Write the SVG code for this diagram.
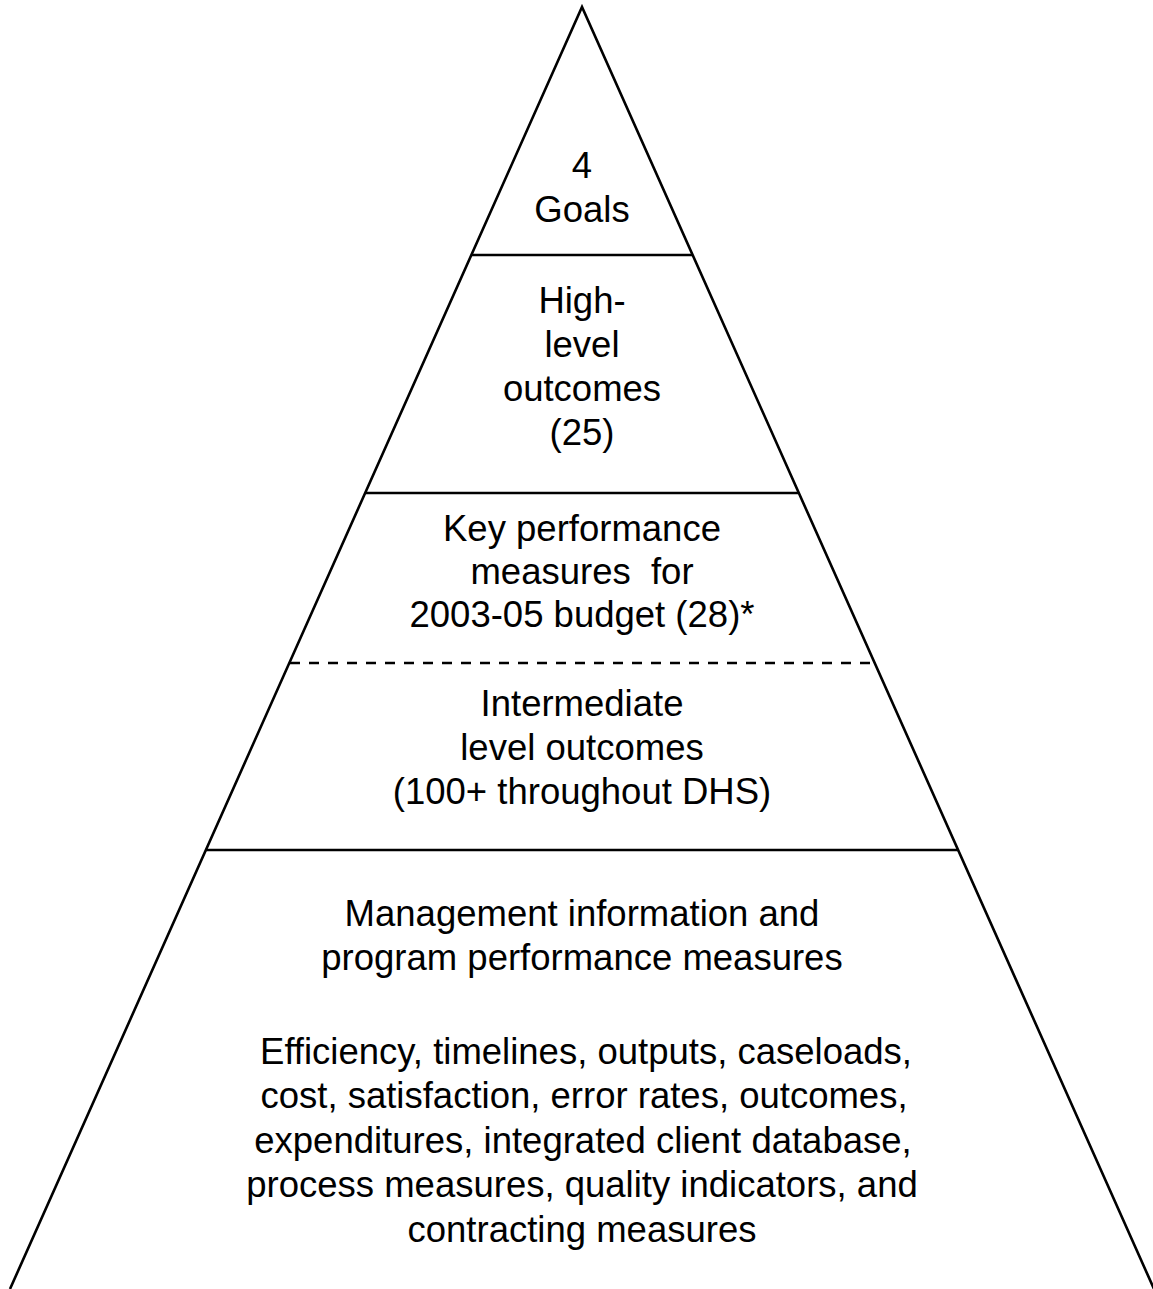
<svg xmlns="http://www.w3.org/2000/svg" width="1153" height="1289" viewBox="0 0 1153 1289">
<style>
.edge{stroke:#000;stroke-width:2.6;fill:none;stroke-linecap:butt}
.dash{stroke-dasharray:10 9}
text{font-family:"Liberation Sans",Arial,sans-serif;font-size:36.5px;fill:#000;text-anchor:middle;white-space:pre}
</style>
<rect width="1153" height="1289" fill="#fff"/>
<g id="connectors">
<polyline class="edge" points="10,1289 582,7 1154,1289"/>
<line class="edge" x1="471" y1="255" x2="693" y2="255"/>
<line class="edge" x1="366" y1="493" x2="798" y2="493"/>
<line class="edge dash" x1="290" y1="663" x2="874" y2="663"/>
<line class="edge" x1="206" y1="850" x2="958" y2="850"/>
</g>
<g id="goals">
<text x="582" y="178">4</text>
<text x="582" y="222">Goals</text>
</g>
<g id="high-level">
<text x="582" y="313">High-</text>
<text x="582" y="357">level</text>
<text x="582" y="401">outcomes</text>
<text x="582" y="445">(25)</text>
</g>
<g id="key-measures">
<text x="582" y="541">Key performance</text>
<text x="582" y="584" xml:space="preserve">measures  for</text>
<text x="582" y="627">2003-05 budget (28)*</text>
</g>
<g id="intermediate">
<text x="582" y="716">Intermediate</text>
<text x="582" y="760">level outcomes</text>
<text x="582" y="804">(100+ throughout DHS)</text>
</g>
<g id="management">
<text x="582" y="926">Management information and</text>
<text x="582" y="970">program performance measures</text>
<text x="586" y="1064">Efficiency, timelines, outputs, caseloads,</text>
<text x="584" y="1108">cost, satisfaction, error rates, outcomes,</text>
<text x="583" y="1153">expenditures, integrated client database,</text>
<text x="582" y="1197">process measures, quality indicators, and</text>
<text x="582" y="1242">contracting measures</text>
</g>
</svg>
